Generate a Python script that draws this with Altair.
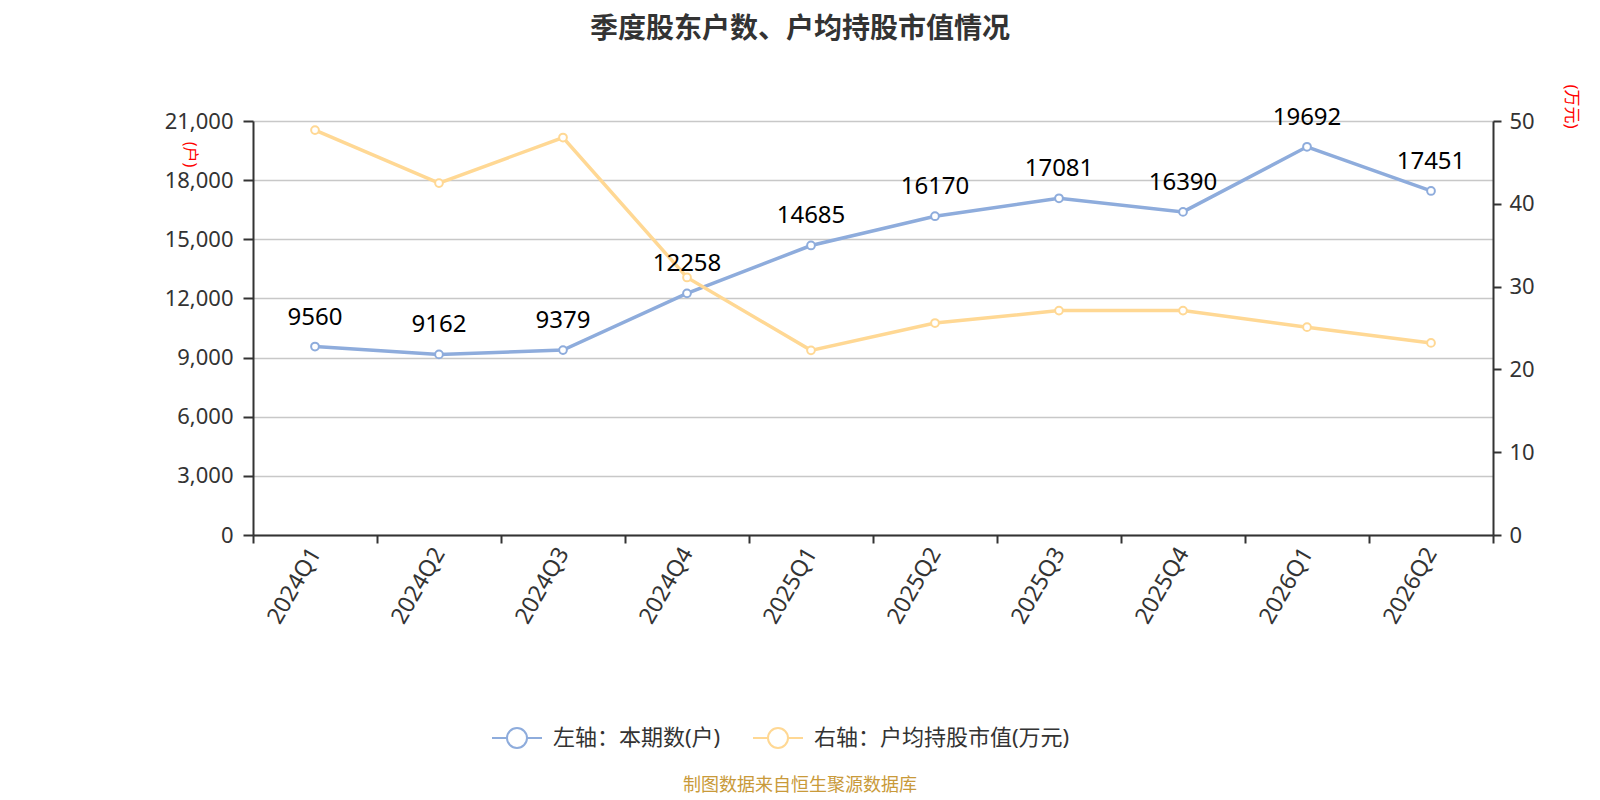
import altair as alt
import pandas as pd

quarters = ["2024Q1", "2024Q2", "2024Q3", "2024Q4", "2025Q1", "2025Q2",
            "2025Q3", "2025Q4", "2026Q1", "2026Q2"]
holders = [9560, 9162, 9379, 12258, 14685, 16170, 17081, 16390, 19692, 17451]
avg_value = [48.9, 42.5, 48.0, 31.1, 22.3, 25.6, 27.1, 27.1, 25.1, 23.2]

s_left = "左轴：本期数(户)"
s_right = "右轴：户均持股市值(万元)"
title_text = "季度股东户数、户均持股市值情况"
source_text = "制图数据来自恒生聚源数据库"

BLUE = "#8EACDC"
YELLOW = "#FFD894"
FONT = "Noto Sans, Noto Sans CJK SC"

df_left = pd.DataFrame({"quarter": quarters, "v": holders, "series": s_left})
df_right = pd.DataFrame({"quarter": quarters, "v": avg_value, "series": s_right})
df_src = pd.DataFrame({"t": [source_text]})

W, H = 1240, 414

x_enc = alt.X("quarter:N", sort=quarters,
              scale=alt.Scale(paddingInner=0, paddingOuter=0),
              axis=alt.Axis(title=None, labelAngle=-60, labelAlign="right",
                            labelBaseline="middle", labelFontSize=23,
                            labelColor="#333", labelPadding=6, tickSize=8,
                            tickBand="extent", domainColor="#333",
                            tickColor="#333", domainWidth=2, tickWidth=2,
                            grid=False, labelFont=FONT))

color_enc = alt.Color("series:N",
                      scale=alt.Scale(domain=[s_left, s_right], range=[BLUE, YELLOW]),
                      legend=alt.Legend(title=None, orient="none", direction="horizontal",
                                        legendX=238, legendY=591,
                                        symbolType="M-1,0L-0.4,0M0.4,0L1,0M0.4,0A0.4,0.4,0,1,1,-0.4,0A0.4,0.4,0,1,1,0.4,0",
                                        symbolSize=2500, symbolStrokeWidth=2,
                                        symbolFillColor="white",
                                        labelFontSize=22, labelColor="#333",
                                        labelFont=FONT, labelOffset=10,
                                        labelLimit=500, columnPadding=28))

y_left = alt.Y("v:Q", scale=alt.Scale(domain=[0, 21000], nice=False),
               axis=alt.Axis(title="(户)", titleAngle=90, titleX=-64, titleY=33,
                             titleAlign="center", titleBaseline="middle",
                             titleColor="red", titleFontSize=16, titleFontWeight="normal",
                             titleFont=FONT,
                             values=list(range(0, 21001, 3000)), format=",.0f",
                             labelFontSize=22, labelColor="#333", labelFont=FONT,
                             labelPadding=10, tickSize=10, tickColor="#333",
                             tickWidth=2, domainColor="#333", domainWidth=2,
                             grid=True, gridColor="#c8c8c8", gridWidth=1.5))

y_right = alt.Y("v:Q", scale=alt.Scale(domain=[0, 50], nice=False),
                axis=alt.Axis(orient="right", title="(万元)", titleAngle=90,
                              titleX=77, titleY=-15, titleAlign="center",
                              titleBaseline="middle", titleColor="red",
                              titleFontSize=17, titleFontWeight="normal",
                              titleFont=FONT,
                              values=list(range(0, 51, 10)),
                              labelFontSize=22, labelColor="#333", labelFont=FONT,
                              labelPadding=8, tickSize=8, tickColor="#333",
                              tickWidth=2, domainColor="#333", domainWidth=2,
                              grid=False))

left_base = alt.Chart(df_left).encode(x=x_enc, y=y_left, color=color_enc)
left_layer = alt.layer(
    left_base.mark_line(strokeWidth=3.5),
    left_base.mark_point(filled=False, fill="white", size=60, strokeWidth=2, opacity=1),
)

right_base = alt.Chart(df_right).encode(x=x_enc, y=y_right, color=color_enc)
right_layer = alt.layer(
    right_base.mark_line(strokeWidth=3.5),
    right_base.mark_point(filled=False, fill="white", size=60, strokeWidth=2, opacity=1),
)

labels = alt.Chart(df_left).mark_text(fontSize=24, color="black", font=FONT,
                                       baseline="middle", dy=-29).encode(
    x=x_enc,
    y=alt.Y("v:Q", scale=alt.Scale(domain=[0, 21000], nice=False), axis=None),
    text=alt.Text("v:Q"),
)

src = alt.Chart(df_src).mark_text(fontSize=18, color="#C99A3A", font=FONT,
                                  align="center", baseline="middle").encode(
    x=alt.value(547), y=alt.value(665), text="t:N")

chart = alt.layer(left_layer, right_layer, labels, src).resolve_scale(
    y="independent"
).properties(
    width=W, height=H,
    title=alt.TitleParams(title_text, fontSize=28, fontWeight="bold", color="#333",
                          font=FONT, anchor="middle", dx=-73, offset=40),
    autosize=alt.AutoSizeParams(type="none"),
    padding={"left": 245, "top": 113, "right": 99, "bottom": 265},
).configure_view(stroke=None).configure(background="white")

chart.save("out.html", embed_options={"renderer": "svg", "actions": False})
